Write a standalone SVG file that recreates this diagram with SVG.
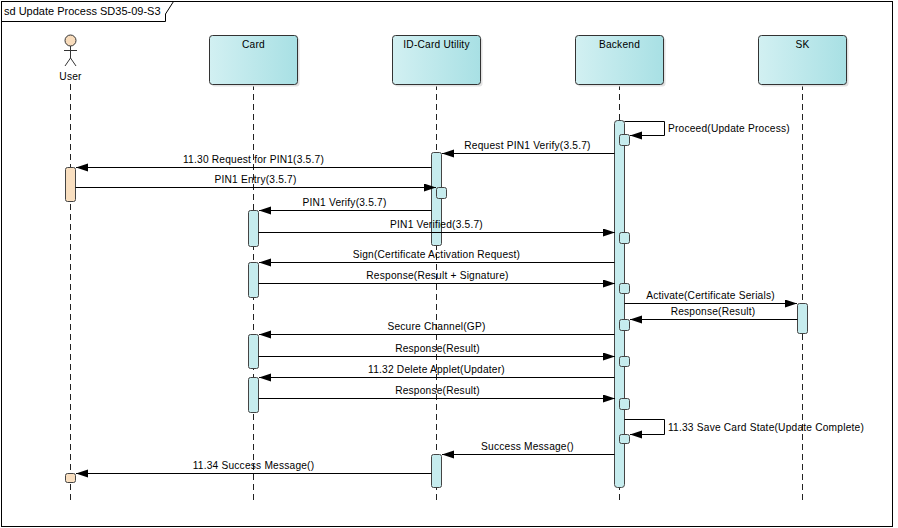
<svg xmlns="http://www.w3.org/2000/svg" width="898" height="528" viewBox="0 0 898 528">
<style>
text{font-family:"Liberation Sans",Arial,sans-serif;fill:#000}
.lbl{font-size:10.2px;letter-spacing:0.2px}
.mid{text-anchor:middle}
.title{font-size:11px}
.frame{fill:#fff;stroke:#000;stroke-width:1}
.tab{fill:none;stroke:#000;stroke-width:1}
.head{fill:url(#g);stroke:#333;stroke-width:1}
.shadow{fill:#e2e2e2}
.life{stroke:#222;stroke-width:1;stroke-dasharray:6 4;fill:none}
.act{fill:#c6ecee;stroke:#444;stroke-width:1}
.pact{fill:#f9dfc0;stroke:#444;stroke-width:1}
.msg{stroke:#000;stroke-width:1;fill:none;marker-end:url(#arr)}
.actor{stroke:#333;stroke-width:1;fill:none}
</style>
<defs>
<linearGradient id="g" x1="0" y1="0" x2="1" y2="0">
<stop offset="0" stop-color="#d2f0f2"/>
<stop offset="1" stop-color="#a8e0e4"/>
</linearGradient>
<marker id="arr" markerUnits="userSpaceOnUse" markerWidth="13" markerHeight="9" refX="12" refY="4" orient="auto">
<path d="M0,0 L12,4 L0,8 z" fill="#000"/>
</marker>
</defs>
<rect class="frame" x="1.5" y="1.5" width="891" height="525"/>
<path class="tab" d="M1.5,21.5 H165.5 V14 L173.5,1.5"/>
<text class="title" x="4" y="15">sd Update Process SD35-09-S3</text>

<g id="user">
<line class="life" x1="70.5" y1="84" x2="70.5" y2="502"/>
<circle cx="70.5" cy="40.5" r="5.5" fill="#f8dcbc" stroke="#333"/>
<line class="actor" x1="70.5" y1="46" x2="70.5" y2="58"/>
<line class="actor" x1="64" y1="50.5" x2="77" y2="50.5"/>
<line class="actor" x1="70.5" y1="58" x2="65" y2="66"/>
<line class="actor" x1="70.5" y1="58" x2="76" y2="66"/>
<text class="lbl mid" x="70.5" y="80">User</text>
<rect class="pact" x="65.5" y="167.5" width="10" height="34" rx="2"/>
<rect class="pact" x="65.5" y="473.5" width="10" height="9" rx="2"/>
</g>

<g id="card">
<line class="life" x1="253.5" y1="84" x2="253.5" y2="500"/>
<rect class="shadow" x="211.5" y="37.5" width="88" height="49" rx="3"/>
<rect class="head" x="209.5" y="35.5" width="88" height="49" rx="3"/>
<text class="lbl mid" x="253.5" y="48">Card</text>
<rect class="act" x="248.5" y="210.5" width="10" height="36" rx="2"/>
<rect class="act" x="248.5" y="262.5" width="10" height="35" rx="2"/>
<rect class="act" x="248.5" y="334.5" width="10" height="34" rx="2"/>
<rect class="act" x="248.5" y="377.5" width="10" height="35" rx="2"/>
</g>

<g id="idcard">
<line class="life" x1="436.5" y1="84" x2="436.5" y2="500"/>
<rect class="shadow" x="394.5" y="37.5" width="88" height="49" rx="3"/>
<rect class="head" x="392.5" y="35.5" width="88" height="49" rx="3"/>
<text class="lbl mid" x="436.5" y="48">ID-Card Utility</text>
<rect class="act" x="431.5" y="152.5" width="10" height="93" rx="2"/>
<rect class="act" x="436.5" y="187.5" width="10" height="11" rx="2"/>
<rect class="act" x="431.5" y="454.5" width="10" height="33" rx="2"/>
</g>

<g id="backend">
<line class="life" x1="619.5" y1="84" x2="619.5" y2="500"/>
<rect class="shadow" x="577.5" y="37.5" width="88" height="49" rx="3"/>
<rect class="head" x="575.5" y="35.5" width="88" height="49" rx="3"/>
<text class="lbl mid" x="619.5" y="48">Backend</text>
<rect class="act" x="614.5" y="120.5" width="10" height="367" rx="3"/>
<rect class="act" x="619.5" y="134.5" width="10" height="11" rx="2"/>
<rect class="act" x="619.5" y="232.5" width="10" height="11" rx="2"/>
<rect class="act" x="619.5" y="283.5" width="10" height="10" rx="2"/>
<rect class="act" x="619.5" y="319.5" width="10" height="11" rx="2"/>
<rect class="act" x="619.5" y="356.5" width="10" height="10" rx="2"/>
<rect class="act" x="619.5" y="398.5" width="10" height="11" rx="2"/>
<rect class="act" x="619.5" y="434.5" width="10" height="9" rx="2"/>
</g>

<g id="sk">
<line class="life" x1="802.5" y1="84" x2="802.5" y2="500"/>
<rect class="shadow" x="760.5" y="37.5" width="88" height="49" rx="3"/>
<rect class="head" x="758.5" y="35.5" width="88" height="49" rx="3"/>
<text class="lbl mid" x="802.5" y="48">SK</text>
<rect class="act" x="797.5" y="303.5" width="10" height="30" rx="2"/>
</g>

<g id="connectors">
<path class="msg" d="M624.5,121.5 H664.5 V135.5 H630"/>
<text class="lbl" x="668" y="132">Proceed(Update Process)</text>

<line class="msg" x1="614.5" y1="153.5" x2="442" y2="153.5"/>
<text class="lbl mid" x="527.5" y="149">Request PIN1 Verify(3.5.7)</text>

<line class="msg" x1="431.5" y1="167.5" x2="76" y2="167.5"/>
<text class="lbl mid" x="253.5" y="163">11.30 Request for PIN1(3.5.7)</text>

<line class="msg" x1="75.5" y1="187.5" x2="436" y2="187.5"/>
<text class="lbl mid" x="255.5" y="183">PIN1 Entry(3.5.7)</text>

<line class="msg" x1="431.5" y1="210.5" x2="259" y2="210.5"/>
<text class="lbl mid" x="344.5" y="206">PIN1 Verify(3.5.7)</text>

<line class="msg" x1="258.5" y1="232.5" x2="615" y2="232.5"/>
<text class="lbl mid" x="436.5" y="228">PIN1 Verified(3.5.7)</text>

<line class="msg" x1="614.5" y1="262.5" x2="259" y2="262.5"/>
<text class="lbl mid" x="436.5" y="258">Sign(Certificate Activation Request)</text>

<line class="msg" x1="258.5" y1="283.5" x2="615" y2="283.5"/>
<text class="lbl mid" x="437.5" y="279">Response(Result + Signature)</text>

<line class="msg" x1="624.5" y1="303.5" x2="797" y2="303.5"/>
<text class="lbl mid" x="710.5" y="299">Activate(Certificate Serials)</text>

<line class="msg" x1="797.5" y1="319.5" x2="630" y2="319.5"/>
<text class="lbl mid" x="713" y="315">Response(Result)</text>

<line class="msg" x1="614.5" y1="334.5" x2="259" y2="334.5"/>
<text class="lbl mid" x="436.5" y="330">Secure Channel(GP)</text>

<line class="msg" x1="258.5" y1="356.5" x2="615" y2="356.5"/>
<text class="lbl mid" x="437.5" y="352">Response(Result)</text>

<line class="msg" x1="614.5" y1="377.5" x2="259" y2="377.5"/>
<text class="lbl mid" x="436.5" y="373">11.32 Delete Applet(Updater)</text>

<line class="msg" x1="258.5" y1="398.5" x2="615" y2="398.5"/>
<text class="lbl mid" x="437.5" y="394">Response(Result)</text>

<path class="msg" d="M624.5,419.5 H664.5 V434.5 H630"/>
<text class="lbl" x="668" y="431">11.33 Save Card State(Update Complete)</text>

<line class="msg" x1="614.5" y1="454.5" x2="442" y2="454.5"/>
<text class="lbl mid" x="527.5" y="450">Success Message()</text>

<line class="msg" x1="431.5" y1="473.5" x2="76" y2="473.5"/>
<text class="lbl mid" x="253.5" y="469">11.34 Success Message()</text>
</g>
</svg>
